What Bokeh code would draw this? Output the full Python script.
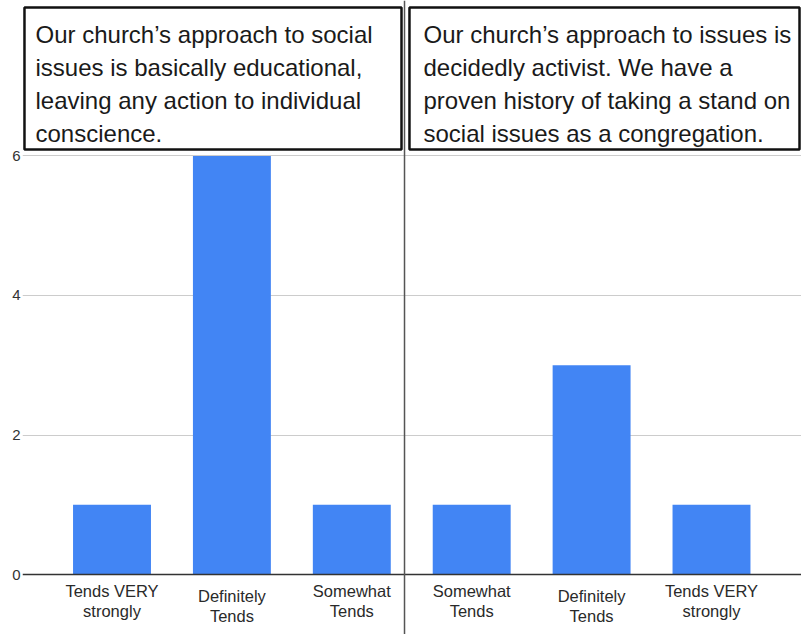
from bokeh.plotting import figure
from bokeh.models import ColumnDataSource, FixedTicker, Range1d, Span
from bokeh.core.properties import value
from bokeh.embed import file_html
from bokeh.resources import INLINE
import numpy as np

# Response categories, left group (educational) then right group (activist)
categories = [
    "Tends VERY\nstrongly",
    "Definitely\nTends",
    "Somewhat\nTends",
    "Somewhat\nTends",
    "Definitely\nTends",
    "Tends VERY\nstrongly",
]
counts = [1, 6, 1, 1, 3, 1]
y_ticks = [0, 2, 4, 6]

statements = [
    "Our church\u2019s approach to social\nissues is basically educational,\nleaving any action to individual\nconscience.",
    "Our church\u2019s approach to issues is\ndecidedly activist. We have a\nproven history of taking a stand on\nsocial issues as a congregation.",
]

FONT = value("Liberation Sans")
BAR_COLOR = "#4285f4"

positions = np.arange(len(categories))
# the middle labels of each group sit a little lower
label_offsets = [12 if c.startswith("Definitely") else 7 for c in categories]

bars = ColumnDataSource(dict(x=positions, top=counts, label=categories, yoff=label_offsets))

p = figure(
    width=801, height=634,
    x_range=Range1d(-0.7465, 5.7506),
    y_range=Range1d(-0.860, 8.229),
    output_backend="svg", toolbar_location=None,
    min_border_left=22, min_border_right=0, min_border_top=0, min_border_bottom=0,
)
p.xaxis.visible = False
p.xgrid.visible = False
p.outline_line_color = None
p.background_fill_color = "white"
p.border_fill_color = "white"

# value axis
yax = p.yaxis[0]
yax.ticker = FixedTicker(ticks=y_ticks)
yax.axis_line_color = None
yax.major_tick_line_color = None
yax.minor_tick_line_color = None
yax.major_label_standoff = -4
yax.major_label_text_font = "Liberation Sans"
yax.major_label_text_font_size = "15px"
yax.major_label_text_color = "#333333"
p.ygrid.ticker = FixedTicker(ticks=y_ticks[1:])
p.ygrid.grid_line_color = "#cccccc"
p.ygrid.grid_line_width = 1

# bars
p.vbar(x="x", top="top", bottom=0, width=0.65, source=bars,
       fill_color=BAR_COLOR, line_color=None)

# zero baseline
p.add_layout(Span(location=0, dimension="width", line_color="#333333", line_width=1.5))

# divider between the two groups
p.add_layout(Span(location=2.4396, dimension="height", line_color="#555555", line_width=1.5))

# category labels under the bars
p.text(x="x", y=0, text="label", source=bars, y_offset="yoff",
       text_align="center", text_baseline="top",
       text_font=FONT, text_font_size="16.5px", text_color="#2a2a2a",
       text_line_height=1.12)

# statement boxes above each group
p.quad(left=[-0.730, 2.481], right=[2.4145, 5.734],
       bottom=[6.093, 6.093], top=[8.129, 8.129],
       fill_color="white", line_color="#111111", line_width=2.5)
p.text(x=[-0.638, 2.598], y=[7.935, 7.935], text=statements,
       text_align="left", text_baseline="top",
       text_font=FONT, text_font_size="24px", text_color="#1a1a1a",
       text_line_height=1.22)

open("out.html", "w").write(file_html(p, INLINE))
